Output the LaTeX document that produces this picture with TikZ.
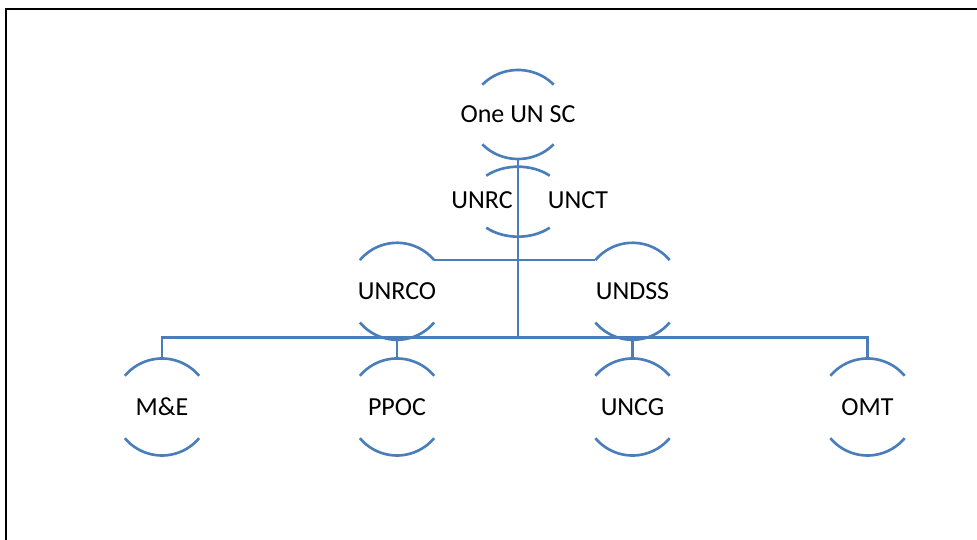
\documentclass[tikz,border=0pt]{standalone}
\usepackage{fontspec}
\setmainfont{Carlito}
\usepackage{tikz}
\usetikzlibrary{shapes.geometric}

\definecolor{unblue}{HTML}{4A7EBB}

\tikzset{
    link/.style={draw=unblue, line width=1.6pt},
    ring/.style={draw=unblue, line width=1.5pt, line cap=butt},
    unit/.style={ellipse, minimum width=1.94cm, minimum height=1.94cm,
        inner sep=0pt, outer sep=0pt, font=\fontsize{14.8}{17.8}\selectfont},
    tag/.style={inner sep=0pt, font=\fontsize{14.8}{17.8}\selectfont}
}

% top and bottom arcs round a unit: name, x radius, y radius, angle
\newcommand{\ringarcs}[4]{%
    \draw[ring] ([shift={({#2*cos(#4)},{#3*sin(#4)})}]#1.center)
        arc[start angle=#4, end angle={180-#4}, x radius=#2, y radius=#3];
    \draw[ring] ([shift={({-#2*cos(#4)},{-#3*sin(#4)})}]#1.center)
        arc[start angle={180+#4}, end angle={360-#4}, x radius=#2, y radius=#3];
}

\begin{document}
\begin{tikzpicture}[x=0.02cm, y=0.02cm]
    \useasboundingbox (0,0) rectangle (977,540);
    \draw[line width=1.5pt] (6,0) -- (6,531) -- (977,531);

    \node[unit, minimum width=1.92cm, minimum height=1.78cm] (sc) at (518,425.5) {One UN SC};
    \coordinate (rcct) at (518,338.3);
    \node[tag] (unrc) at (482,340) {UNRC};
    \node[tag] (unct) at (578,340) {UNCT};
    \node[unit] (rco) at (397,248.7) {UNRCO};
    \node[unit] (dss) at (632.5,248.7) {UNDSS};
    \coordinate (hub) at (518,202.7);
    \node[unit] (me) at (162,133) {M\&E};
    \node[unit] (ppoc) at (397,133) {PPOC};
    \node[unit] (uncg) at (632.5,133) {UNCG};
    \node[unit] (omt) at (867.5,133) {OMT};

    \ringarcs{sc}{48}{44.5}{42}
    \ringarcs{rcct}{47.4}{35}{48}
    \ringarcs{rco}{48.5}{48.5}{40}
    \ringarcs{dss}{48.5}{48.5}{40}
    \ringarcs{me}{48.5}{48.5}{40}
    \ringarcs{ppoc}{48.5}{48.5}{40}
    \ringarcs{uncg}{48.5}{48.5}{40}
    \ringarcs{omt}{48.5}{48.5}{40}

    \draw[link] (sc.south) -- (hub);
    \draw[link] ([shift={(37.2,31.2)}]rco.center) -- ([shift={(-37.2,31.2)}]dss.center);
    \draw[link] (me.north) |- (hub) -| (omt.north);
    \draw[link] (ppoc.north) -- (ppoc.north |- hub);
    \draw[link] (uncg.north) -- (uncg.north |- hub);
\end{tikzpicture}
\end{document}
